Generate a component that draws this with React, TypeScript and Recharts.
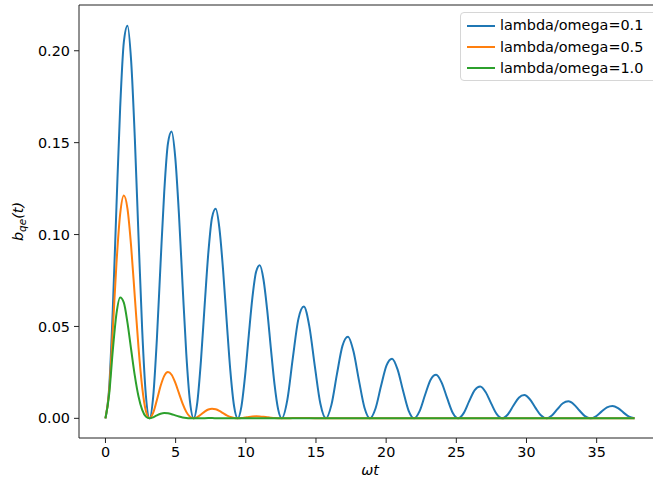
import { LineChart, Line, XAxis, YAxis, Legend, ReferenceLine } from "recharts"

const FONT = "'DejaVu Sans', sans-serif"

// omega*t sample points (finer over the first four humps)
const time = [
  0, 0.2618, 0.5236, 0.7854, 1.0472, 1.309, 1.5708, 1.8326, 2.0944, 2.3562, 2.618, 2.8798, 3.1416,
  3.4034, 3.6652, 3.927, 4.1888, 4.4506, 4.7124, 4.9742, 5.236, 5.4978, 5.7596, 6.0214, 6.2832,
  6.545, 6.8068, 7.0686, 7.3304, 7.5922, 7.854, 8.1158, 8.3776, 8.6394, 8.9012, 9.163, 9.4248,
  9.6866, 9.9484, 10.2102, 10.472, 10.7338, 10.9956, 11.2574, 11.5192, 11.781, 12.0428, 12.3046, 12.5664,
  12.9591, 13.3518, 13.7445, 14.1372, 14.5299, 14.9226, 15.3153, 15.708,
  16.1007, 16.4934, 16.8861, 17.2788, 17.6715, 18.0642, 18.4569, 18.8496,
  19.2423, 19.635, 20.0277, 20.4204, 20.8131, 21.2058, 21.5984, 21.9911,
  22.3838, 22.7765, 23.1692, 23.5619, 23.9546, 24.3473, 24.74, 25.1327,
  25.5254, 25.9181, 26.3108, 26.7035, 27.0962, 27.4889, 27.8816, 28.2743,
  28.667, 29.0597, 29.4524, 29.8451, 30.2378, 30.6305, 31.0232, 31.4159,
  31.8086, 32.2013, 32.594, 32.9867, 33.3794, 33.7721, 34.1648, 34.5575,
  34.9502, 35.3429, 35.7356, 36.1283, 36.521, 36.9137, 37.3064, 37.6991,
]

// lambda/omega = 0.1
const ratio01 = [
  0, 0.01631, 0.05931, 0.11556, 0.16886, 0.20464, 0.21366, 0.1942, 0.15207, 0.09876, 0.0481, 0.01256, 0,
  0.01191, 0.04332, 0.08441, 0.12334, 0.14947, 0.15606, 0.14185, 0.11107, 0.07214, 0.03513, 0.00917, 0,
  0.0087, 0.03164, 0.06165, 0.09009, 0.10918, 0.11399, 0.10361, 0.08113, 0.05269, 0.02566, 0.0067, 0,
  0.00636, 0.02311, 0.04503, 0.0658, 0.07974, 0.08326, 0.07567, 0.05926, 0.03848, 0.01874, 0.00489, 0,
  0.01002, 0.03289, 0.05399, 0.06081, 0.04991, 0.02811, 0.00792, 0,
  0.00732, 0.02402, 0.03943, 0.04442, 0.03645, 0.02053, 0.00578, 0,
  0.00535, 0.01755, 0.0288, 0.03244, 0.02663, 0.015, 0.00422, 0,
  0.0039, 0.01282, 0.02104, 0.0237, 0.01945, 0.01095, 0.00309, 0,
  0.00285, 0.00936, 0.01537, 0.01731, 0.01421, 0.008, 0.00225, 0,
  0.00208, 0.00684, 0.01122, 0.01264, 0.01038, 0.00584, 0.00165, 0,
  0.00152, 0.00499, 0.0082, 0.00923, 0.00758, 0.00427, 0.0012, 0,
  0.00111, 0.00365, 0.00599, 0.00675, 0.00554, 0.00312, 0.00088, 0,
]

// lambda/omega = 0.5
const ratio05 = [
  0, 0.01469, 0.0481, 0.0844, 0.11107, 0.12122, 0.11399, 0.0933, 0.0658, 0.03848, 0.01688, 0.00397, 0,
  0.00305, 0.01, 0.01755, 0.02309, 0.0252, 0.0237, 0.0194, 0.01368, 0.008, 0.00351, 0.00083, 0,
  0.00064, 0.00208, 0.00365, 0.0048, 0.00524, 0.00493, 0.00403, 0.00284, 0.00166, 0.00073, 0.00017, 0,
  0.00013, 0.00043, 0.00076, 0.001, 0.00109, 0.00102, 0.00084, 0.00059, 0.00035, 0.00015, 0.00004, 0,
  0.00006, 0.00016, 0.00022, 0.00021, 0.00015, 0.00007, 0.00002, 0,
  0, 0, 0, 0, 0, 0, 0, 0,
  0, 0, 0, 0, 0, 0, 0, 0,
  0, 0, 0, 0, 0, 0, 0, 0,
  0, 0, 0, 0, 0, 0, 0, 0,
  0, 0, 0, 0, 0, 0, 0, 0,
  0, 0, 0, 0, 0, 0, 0, 0,
  0, 0, 0, 0, 0, 0, 0, 0,
]

// lambda/omega = 1.0
const ratio10 = [
  0, 0.01289, 0.03702, 0.05699, 0.0658, 0.063, 0.05197, 0.03732, 0.02309, 0.01185, 0.00456, 0.00094, 0,
  0.00056, 0.0016, 0.00246, 0.00284, 0.00272, 0.00225, 0.00161, 0.001, 0.00051, 0.0002, 0.00004, 0,
  0.00002, 0.00007, 0.00011, 0.00012, 0.00012, 0.0001, 0.00007, 0.00004, 0.00002, 0.00001, 0, 0,
  0, 0, 0, 0, 0, 0, 0, 0, 0, 0, 0, 0,
  0, 0, 0, 0, 0, 0, 0, 0,
  0, 0, 0, 0, 0, 0, 0, 0,
  0, 0, 0, 0, 0, 0, 0, 0,
  0, 0, 0, 0, 0, 0, 0, 0,
  0, 0, 0, 0, 0, 0, 0, 0,
  0, 0, 0, 0, 0, 0, 0, 0,
  0, 0, 0, 0, 0, 0, 0, 0,
  0, 0, 0, 0, 0, 0, 0, 0,
]

const seriesNames = ["lambda/omega=0.1", "lambda/omega=0.5", "lambda/omega=1.0"]
const seriesColors = ["#1f77b4", "#ff7f0e", "#2ca02c"]
const xTicks = [0, 5, 10, 15, 20, 25, 30, 35]
const yTicks = [0, 0.05, 0.1, 0.15, 0.2]

const X_DOMAIN = [-1.885, 39.584]
const Y_DOMAIN = [-0.0107, 0.2249]

const data = time.map((t, i) => ({
  t,
  r01: ratio01[i],
  r05: ratio05[i],
  r10: ratio10[i],
}))

const tickStyle = { fontFamily: FONT, fontSize: 14.4, fill: "#000" }

function renderXLabel(props: any) {
  const vb = props.viewBox
  return (
    <text
      x={vb.x + vb.width / 2}
      y={vb.y + vb.height - 4}
      textAnchor="middle"
      fontFamily={FONT}
      fontSize={14.4}
      fontStyle="italic"
      fill="#000"
    >
      ωt
    </text>
  )
}

function renderYLabel(props: any) {
  const vb = props.viewBox
  const cy = vb.y + vb.height / 2
  const cx = 18
  return (
    <text
      x={cx}
      y={cy}
      transform={`rotate(-90, ${cx}, ${cy})`}
      textAnchor="middle"
      dominantBaseline="central"
      fontFamily={FONT}
      fontSize={14.4}
      fontStyle="italic"
      fill="#000"
    >
      b
      <tspan fontSize={10.5} dy={4}>
        qe
      </tspan>
      <tspan dy={-4}>(t)</tspan>
    </text>
  )
}

function LegendBox(props: any) {
  const items = props.payload || []
  return (
    <div
      style={{
        width: 200,
        height: 69,
        boxSizing: "border-box",
        border: "1px solid #d6d6d6",
        borderRadius: 4,
        background: "rgba(255,255,255,0.8)",
        paddingTop: 2,
        fontFamily: FONT,
        fontSize: 14.4,
        color: "#000",
      }}
    >
      {items.map((it: any) => (
        <div
          key={it.value}
          style={{ display: "flex", alignItems: "center", height: 21.4, lineHeight: "21px" }}
        >
          <span
            style={{
              display: "inline-block",
              width: 28,
              height: 2,
              marginLeft: 6,
              marginRight: 5,
              background: it.color,
            }}
          />
          <span>{it.value}</span>
        </div>
      ))}
    </div>
  )
}

export default function App() {
  return (
    <div
      style={{
        position: "absolute",
        left: 0,
        top: 0,
        width: 653,
        height: 479,
        overflow: "hidden",
        background: "#fff",
      }}
    >
      <LineChart
        width={700}
        height={479}
        data={data}
        margin={{ top: 5, right: 39, bottom: 0, left: 0 }}
      >
        <XAxis
          dataKey="t"
          type="number"
          domain={X_DOMAIN}
          ticks={xTicks}
          allowDataOverflow
          height={41}
          tick={tickStyle}
          tickSize={5}
          tickMargin={4}
          stroke="#222"
          tickLine={{ stroke: "#222" }}
          label={renderXLabel}
        />
        <YAxis
          type="number"
          domain={Y_DOMAIN}
          ticks={yTicks}
          allowDataOverflow
          width={79}
          tick={tickStyle}
          tickSize={5}
          tickMargin={4}
          stroke="#222"
          tickLine={{ stroke: "#222" }}
          tickFormatter={(v: number) => v.toFixed(2)}
          label={renderYLabel}
        />
        <ReferenceLine y={Y_DOMAIN[1]} stroke="#222" strokeWidth={1} ifOverflow="visible" />
        <Line
          type="monotone"
          dataKey="r01"
          name={seriesNames[0]}
          stroke={seriesColors[0]}
          strokeWidth={2}
          dot={false}
          isAnimationActive={false}
        />
        <Line
          type="monotone"
          dataKey="r05"
          name={seriesNames[1]}
          stroke={seriesColors[1]}
          strokeWidth={2}
          dot={false}
          isAnimationActive={false}
        />
        <Line
          type="monotone"
          dataKey="r10"
          name={seriesNames[2]}
          stroke={seriesColors[2]}
          strokeWidth={2}
          dot={false}
          isAnimationActive={false}
        />
        <Legend
          layout="horizontal"
          verticalAlign="middle"
          align="center"
          content={<LegendBox />}
          wrapperStyle={{ left: 460, top: 12, right: "auto", bottom: "auto", width: 200 }}
        />
      </LineChart>
    </div>
  )
}
